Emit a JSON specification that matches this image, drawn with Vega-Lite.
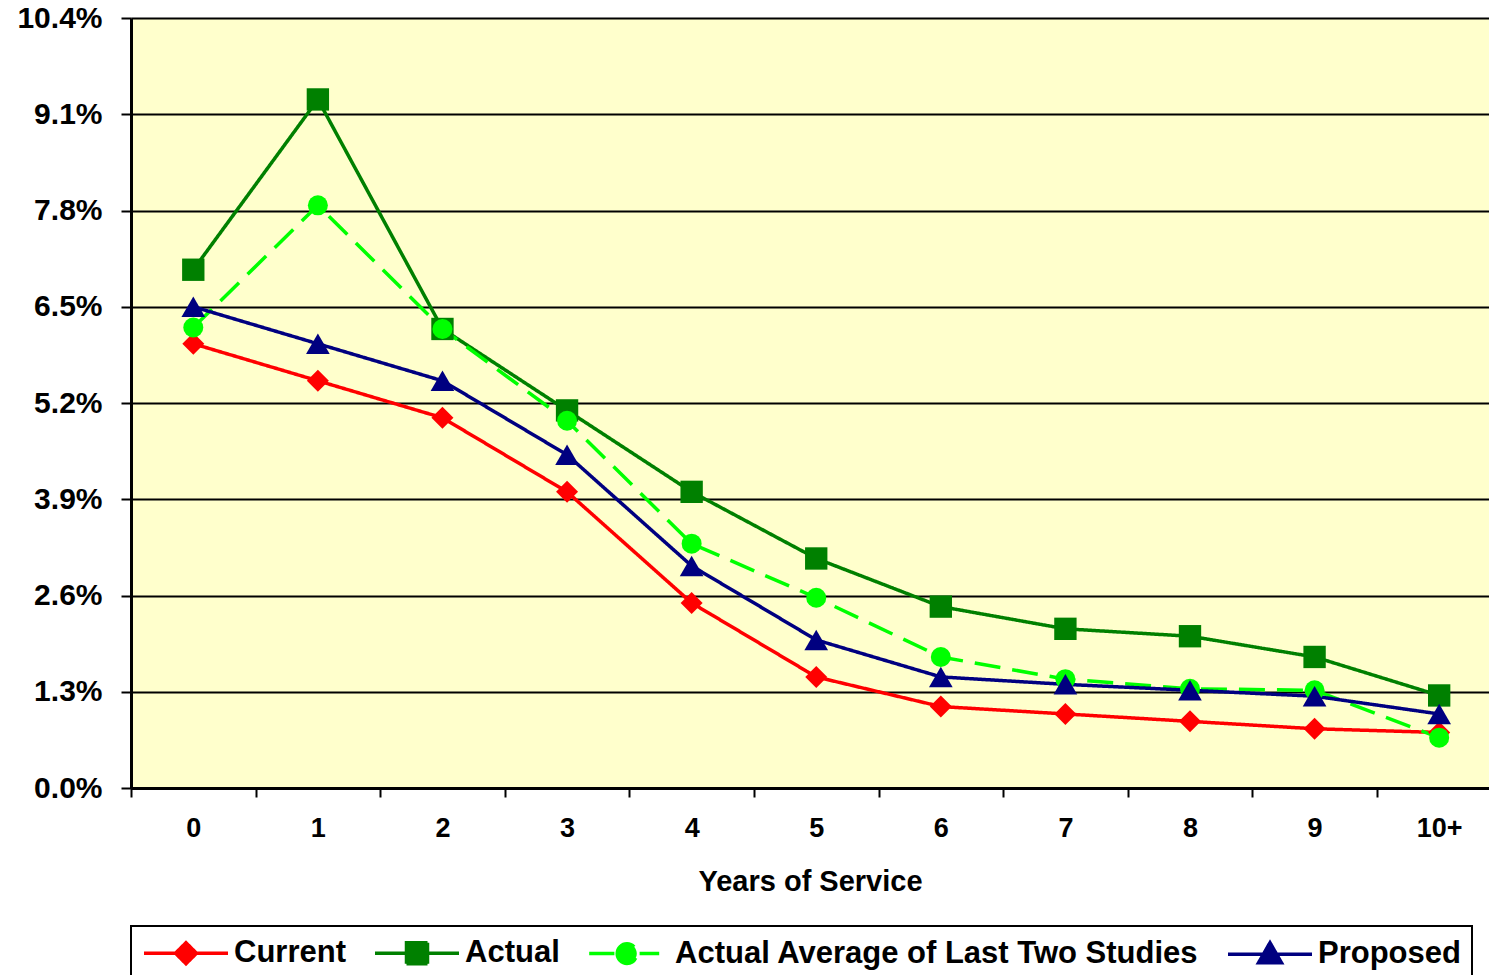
{
  "$schema": "https://vega.github.io/schema/vega-lite/v6.json",
  "width": 1358,
  "height": 770,
  "autosize": {"type": "none"},
  "padding": {"left": 131, "top": 18, "right": 0, "bottom": 187},
  "background": "white",
  "config": {
    "font": "Liberation Sans",
    "view": {"fill": "#FFFFCC", "stroke": null}
  },
  "data": {
    "values": [
      {"yos": 0, "series": "Current", "rate": 6.0},
      {"yos": 1, "series": "Current", "rate": 5.5},
      {"yos": 2, "series": "Current", "rate": 5.0},
      {"yos": 3, "series": "Current", "rate": 4.0},
      {"yos": 4, "series": "Current", "rate": 2.5},
      {"yos": 5, "series": "Current", "rate": 1.5},
      {"yos": 6, "series": "Current", "rate": 1.1},
      {"yos": 7, "series": "Current", "rate": 1.0},
      {"yos": 8, "series": "Current", "rate": 0.9},
      {"yos": 9, "series": "Current", "rate": 0.8},
      {"yos": 10, "series": "Current", "rate": 0.75},
      {"yos": 0, "series": "Actual", "rate": 7.0},
      {"yos": 1, "series": "Actual", "rate": 9.3},
      {"yos": 2, "series": "Actual", "rate": 6.2},
      {"yos": 3, "series": "Actual", "rate": 5.1},
      {"yos": 4, "series": "Actual", "rate": 4.0},
      {"yos": 5, "series": "Actual", "rate": 3.1},
      {"yos": 6, "series": "Actual", "rate": 2.45},
      {"yos": 7, "series": "Actual", "rate": 2.15},
      {"yos": 8, "series": "Actual", "rate": 2.05},
      {"yos": 9, "series": "Actual", "rate": 1.77},
      {"yos": 10, "series": "Actual", "rate": 1.25},
      {"yos": 0, "series": "Actual Average of Last Two Studies", "rate": 6.22},
      {"yos": 1, "series": "Actual Average of Last Two Studies", "rate": 7.87},
      {"yos": 2, "series": "Actual Average of Last Two Studies", "rate": 6.2},
      {"yos": 3, "series": "Actual Average of Last Two Studies", "rate": 4.96},
      {"yos": 4, "series": "Actual Average of Last Two Studies", "rate": 3.3},
      {"yos": 5, "series": "Actual Average of Last Two Studies", "rate": 2.57},
      {"yos": 6, "series": "Actual Average of Last Two Studies", "rate": 1.77},
      {"yos": 7, "series": "Actual Average of Last Two Studies", "rate": 1.47},
      {"yos": 8, "series": "Actual Average of Last Two Studies", "rate": 1.34},
      {"yos": 9, "series": "Actual Average of Last Two Studies", "rate": 1.32},
      {"yos": 10, "series": "Actual Average of Last Two Studies", "rate": 0.68},
      {"yos": 0, "series": "Proposed", "rate": 6.5},
      {"yos": 1, "series": "Proposed", "rate": 6.0},
      {"yos": 2, "series": "Proposed", "rate": 5.5},
      {"yos": 3, "series": "Proposed", "rate": 4.5},
      {"yos": 4, "series": "Proposed", "rate": 3.0},
      {"yos": 5, "series": "Proposed", "rate": 2.0},
      {"yos": 6, "series": "Proposed", "rate": 1.5},
      {"yos": 7, "series": "Proposed", "rate": 1.4},
      {"yos": 8, "series": "Proposed", "rate": 1.32},
      {"yos": 9, "series": "Proposed", "rate": 1.24},
      {"yos": 10, "series": "Proposed", "rate": 1.0}
    ]
  },
  "encoding": {
    "x": {
      "field": "yos",
      "type": "quantitative",
      "scale": {"domain": [-0.5, 10.4], "nice": false, "zero": false},
      "axis": {
        "values": [0, 1, 2, 3, 4, 5, 6, 7, 8, 9, 10],
        "tickOffset": -62.3,
        "labelOffset": 62.3,
        "labelExpr": "datum.value == 10 ? '10+' : datum.label",
        "grid": false,
        "domainColor": "black",
        "domainWidth": 3,
        "tickColor": "black",
        "tickWidth": 2,
        "tickSize": 9,
        "labelFont": "Liberation Sans",
        "labelFontSize": 27,
        "labelFontWeight": "bold",
        "labelColor": "black",
        "labelPadding": 18,
        "labelFlush": false,
        "labelOverlap": false,
        "title": "Years of Service",
        "titleFont": "Liberation Sans",
        "titleFontSize": 29,
        "titleFontWeight": "bold",
        "titleColor": "black",
        "titlePadding": 26
      }
    },
    "y": {
      "field": "rate",
      "type": "quantitative",
      "scale": {"domain": [0, 10.4], "nice": false, "zero": true},
      "axis": {
        "values": [0, 1.3, 2.6, 3.9, 5.2, 6.5, 7.8, 9.1, 10.4],
        "labelExpr": "format(datum.value, '.1f') + '%'",
        "grid": true,
        "gridColor": "black",
        "gridWidth": 2,
        "domainColor": "black",
        "domainWidth": 3,
        "tickColor": "black",
        "tickWidth": 2,
        "tickSize": 10,
        "labelFont": "Liberation Sans",
        "labelFontSize": 30,
        "labelFontWeight": "bold",
        "labelColor": "black",
        "labelPadding": 19,
        "labelOverlap": false,
        "labelFlush": false,
        "title": null
      }
    },
    "color": {
      "field": "series",
      "type": "nominal",
      "scale": {
        "domain": ["Current", "Actual", "Actual Average of Last Two Studies", "Proposed"],
        "range": ["#FF0000", "#008000", "#00FF00", "#000080"]
      },
      "legend": {
        "orient": "bottom",
        "direction": "horizontal",
        "title": null,
        "offset": 30,
        "padding": 11,
        "strokeColor": "black",
        "fillColor": "white",
        "labelFont": "Liberation Sans",
        "labelFontSize": 31,
        "labelFontWeight": "bold",
        "labelColor": "black",
        "labelLimit": 0,
        "labelOffset": 60,
        "columnPadding": 22,
        "symbolSize": 784,
        "symbolStrokeWidth": 3.5,
        "encode": {
          "legend": {"update": {"strokeWidth": {"value": 2}}},
          "symbols": {
            "update": {
              "shape": {"signal": "datum.value == 'Current' ? 'M-1,0H5M2,-0.75L2.75,0L2,0.75L1.25,0Z' : datum.value == 'Actual' ? 'M-1,0H5M1.25,-0.75H2.75V0.75H1.25Z' : datum.value == 'Proposed' ? 'M-1,0H5M2,-0.82L2.82,0.62L1.18,0.62Z' : 'M-0.7,0H1.1M2.9,0H4.3M1.3,0A0.7,0.7,0,1,0,2.7,0A0.7,0.7,0,1,0,1.3,0Z'"},
              "size": {"value": 784},
              "strokeWidth": {"value": 3.5},
              "strokeDash": {"value": [1, 0]},
              "fill": {"signal": "scale('color', datum.value)"},
              "stroke": {"signal": "scale('color', datum.value)"},
              "opacity": {"value": 1}
            }
          }
        }
      }
    }
  },
  "layer": [
    {
      "mark": {"type": "line", "strokeWidth": 3.5},
      "encoding": {
        "strokeDash": {
          "field": "series",
          "type": "nominal",
          "scale": {
            "domain": ["Current", "Actual", "Actual Average of Last Two Studies", "Proposed"],
            "range": [[1, 0], [1, 0], [26, 12], [1, 0]]
          },
          "legend": null
        }
      }
    },
    {
      "transform": [{"filter": "datum.series == 'Current'"}],
      "mark": {"type": "point", "filled": true, "opacity": 1, "shape": "diamond", "size": 484}
    },
    {
      "transform": [{"filter": "datum.series == 'Actual'"}],
      "mark": {"type": "point", "filled": true, "opacity": 1, "shape": "square", "size": 500}
    },
    {
      "transform": [{"filter": "datum.series == 'Actual Average of Last Two Studies'"}],
      "mark": {"type": "point", "filled": true, "opacity": 1, "shape": "circle", "size": 400}
    },
    {
      "transform": [{"filter": "datum.series == 'Proposed'"}],
      "mark": {"type": "point", "filled": true, "opacity": 1, "shape": "triangle-up", "size": 560}
    }
  ]
}
